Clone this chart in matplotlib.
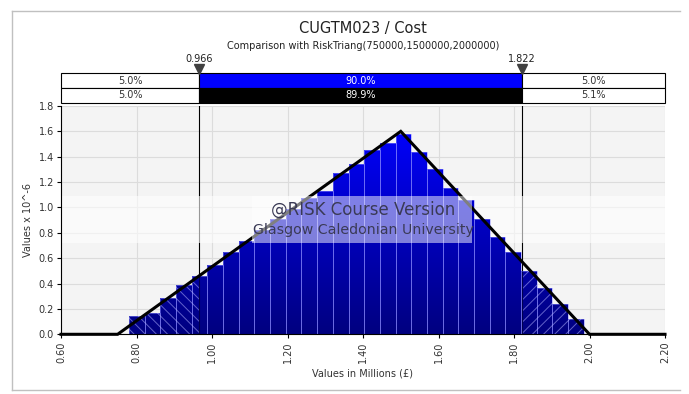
import numpy as np
import matplotlib
matplotlib.use("Agg")
import matplotlib.pyplot as plt
from matplotlib.patches import Rectangle, PathPatch
from matplotlib.path import Path
from matplotlib.lines import Line2D

# histogram (density, values x 10^-6)
bin_edges = np.linspace(0.780, 1.985, 30)
bar_heights = [0.147, 0.168, 0.289, 0.389, 0.462, 0.549, 0.647, 0.738, 0.820,
               0.907, 0.990, 1.078, 1.130, 1.272, 1.345, 1.456, 1.506, 1.582,
               1.435, 1.300, 1.151, 1.059, 0.912, 0.770, 0.647, 0.500, 0.363,
               0.242, 0.122]

# RiskTriang(750000,1500000,2000000) in millions
line_x = [0.60, 0.75, 1.50, 2.00, 2.20]
line_y = [0.0, 0.0, 1.6, 0.0, 0.0]

left_mark, right_mark = 0.966, 1.822
row1 = ["5.0%", "90.0%", "5.0%"]
row2 = ["5.0%", "89.9%", "5.1%"]

xticks = [0.60, 0.80, 1.00, 1.20, 1.40, 1.60, 1.80, 2.00, 2.20]
yticks = [0.0, 0.2, 0.4, 0.6, 0.8, 1.0, 1.2, 1.4, 1.6, 1.8]

plt.rcParams['font.family'] = ['DejaVu Sans']
W, H = 689, 394
fig = plt.figure(figsize=(W / 100, H / 100), dpi=100)

def fx(px):
    return px / W

def fy(py):
    return 1 - py / H

ax = fig.add_axes([fx(61), fy(334.3), fx(665) - fx(61), fy(106) - fy(334.3)])
ax.set_xlim(0.6, 2.2)
ax.set_ylim(0, 1.8)
ax.set_facecolor('#f4f4f4')
ax.set_xticks(xticks)
ax.set_xticklabels([f"{t:.2f}" for t in xticks], rotation=90, fontsize=7, color='#333333')
ax.set_yticks(yticks)
ax.set_yticklabels([f"{t:.1f}" for t in yticks], fontsize=7, color='#333333')
ax.tick_params(length=3, width=0.8, pad=2)
ax.grid(True, color='#dcdcdc', lw=0.8, zorder=0)
ax.set_axisbelow(True)
for s in ['top', 'right']:
    ax.spines[s].set_visible(False)
ax.set_xlabel("Values in Millions (£)", fontsize=7, color='#333333', labelpad=4)
ax.set_ylabel("Values x 10^-6", fontsize=7, color='#333333', labelpad=4)

# marker lines behind everything
for m in (left_mark, right_mark):
    ax.axvline(m, color='black', lw=0.8, zorder=1.5)

# full width light band of the watermark
ax.axhspan(0.72, 1.09, color='white', alpha=0.6, lw=0, zorder=1.8)

# gradient bars
lefts = bin_edges[:-1]
widths = np.diff(bin_edges)
verts = []
for l, w, h in zip(lefts, widths, bar_heights):
    verts.append(Path([(l, 0), (l + w, 0), (l + w, h), (l, h), (l, 0)], closed=True))
clip = PathPatch(Path.make_compound_path(*verts), transform=ax.transData,
                 facecolor='none', edgecolor='none')
ax.add_patch(clip)
grad = np.linspace(0, 1, 256)
cols = np.zeros((256, 1, 3))
cols[:, 0, 2] = 0.50 + 0.48 * grad
img = ax.imshow(cols, extent=[0.6, 2.2, 0, 1.6], origin='lower', aspect='auto',
                zorder=2, interpolation='bilinear')
img.set_clip_path(clip)
ax.set_xlim(0.6, 2.2)
ax.set_ylim(0, 1.8)
ax.bar(lefts, bar_heights, width=widths, align='edge', facecolor='none',
       edgecolor=(0.55, 0.55, 1.0, 0.6), lw=0.6, zorder=2.5)

# hatched tails
plt.rcParams['hatch.linewidth'] = 0.7
for l, w, h in zip(lefts, widths, bar_heights):
    r = l + w
    if l < left_mark:
        ax.add_patch(Rectangle((l, 0), min(r, left_mark) - l, h, facecolor='none',
                               edgecolor=(0.7, 0.7, 1.0, 0.55), hatch='\\\\\\', lw=0, zorder=2.7))
    if r > right_mark:
        x0 = max(l, right_mark)
        ax.add_patch(Rectangle((x0, 0), r - x0, h, facecolor='none',
                               edgecolor=(0.7, 0.7, 1.0, 0.55), hatch='///', lw=0, zorder=2.7))
i4 = np.searchsorted(bin_edges, left_mark) - 1
ax.vlines(left_mark, 0, bar_heights[i4], color='#000050', lw=0.8, zorder=2.8)
i25 = np.searchsorted(bin_edges, right_mark) - 1
ax.vlines(right_mark, 0, max(bar_heights[i25], bar_heights[i25 + 1]), color='#000050', lw=0.8, zorder=2.8)

# theoretical triangle
ax.plot(line_x, line_y, color='black', lw=2.2, zorder=3, solid_joinstyle='miter', clip_on=False)

# watermark box and text
ax.add_patch(Rectangle((1.105, 0.72), 0.585, 0.37, facecolor='white', alpha=0.5, lw=0, zorder=4))
ax.text(1.40, 0.985, "@RISK Course Version", ha='center', va='center', fontsize=12,
        color='#3a3a55', zorder=5)
ax.text(1.40, 0.82, "Glasgow Caledonian University", ha='center', va='center', fontsize=10.2,
        color='#3a3a55', zorder=5)

# probability bands above the plot
bx = fig.add_axes([fx(61), fy(103), fx(665) - fx(61), fy(73) - fy(103)])
bx.set_xlim(0.6, 2.2)
bx.set_ylim(0, 2)
bx.axis('off')
cells = [(0.6, left_mark), (left_mark, right_mark), (right_mark, 2.2)]
for row, y0, mid in ((row1, 1, '#0000ff'), (row2, 0, 'black')):
    for j, (a, b) in enumerate(cells):
        fc = mid if j == 1 else 'white'
        bx.add_patch(Rectangle((a, y0), b - a, 1, facecolor=fc, edgecolor='black', lw=0.8,
                               clip_on=False))
        bx.text((a + b) / 2, y0 + 0.5, row[j], ha='center', va='center', fontsize=7,
                color='white' if j == 1 else '#333333')
for m in (left_mark, right_mark):
    bx.plot([m], [2.25], marker='v', markersize=7, color='#404040', clip_on=False)
    bx.text(m, 2.9, f"{m:.3f}", ha='center', va='center', fontsize=7, color='#222222')

fig.text(fx(363), fy(28), "CUGTM023 / Cost", ha='center', va='center', fontsize=10.5, color='#222222')
fig.text(fx(363), fy(46), "Comparison with RiskTriang(750000,1500000,2000000)", ha='center',
         va='center', fontsize=7, color='#222222')

# outer frame
for xs, ys in (([12, 12], [11, 390]), ([12, 680], [11, 11]), ([12, 680], [390, 390])):
    fig.add_artist(Line2D([fx(v) for v in xs], [fy(v) for v in ys], color='#c0c0c0', lw=1))

fig.savefig("out.png", dpi=100)
